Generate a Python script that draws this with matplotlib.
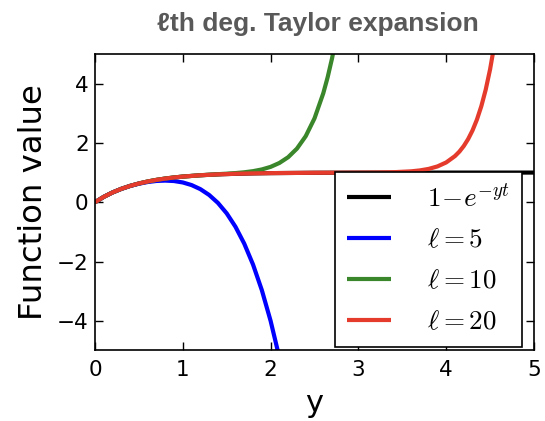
import matplotlib
matplotlib.use("Agg")
import matplotlib.pyplot as plt

plt.rcParams['mathtext.fontset'] = 'cm'

# 1 - e^{-yt}
y_exact = [0.0, 0.1, 0.2, 0.3, 0.4, 0.5, 0.6, 0.7, 0.8, 0.9, 1.0, 1.2, 1.4, 1.6,
           1.8, 2.0, 2.5, 3.0, 3.5, 4.0, 5.0]
v_exact = [0.0, 0.1813, 0.3297, 0.4512, 0.5507, 0.6321, 0.6988, 0.7534, 0.7981,
           0.8347, 0.8647, 0.9093, 0.9392, 0.9592, 0.9727, 0.9817, 0.9933, 0.9975,
           0.9991, 0.9997, 1.0]

# l = 5
y_l5 = [0.0, 0.1, 0.2, 0.3, 0.4, 0.5, 0.6, 0.7, 0.8, 0.9, 1.0, 1.1, 1.2, 1.3, 1.4,
        1.5, 1.6, 1.7, 1.8, 1.9, 2.0, 2.1, 2.2]
v_l5 = [0.0, 0.1813, 0.3296, 0.4506, 0.5483, 0.6250, 0.6816, 0.7173, 0.7296,
        0.7146, 0.6667, 0.5786, 0.4416, 0.2453, -0.0224, -0.375, -0.8277, -1.3974,
        -2.1024, -2.9627, -4.0, -5.2374, -6.6997]

# l = 10
y_l10 = [0.0, 0.1, 0.2, 0.3, 0.4, 0.5, 0.6, 0.7, 0.8, 0.9, 1.0, 1.2, 1.4, 1.5, 1.6,
         1.7, 1.8, 1.9, 2.0, 2.1, 2.2, 2.3, 2.4, 2.5, 2.6, 2.65, 2.7, 2.75, 2.8]
v_l10 = [0.0, 0.1813, 0.3297, 0.4512, 0.5507, 0.6321, 0.6988, 0.7534, 0.7981,
         0.8347, 0.8649, 0.9107, 0.9457, 0.9629, 0.9832, 1.0099, 1.0482, 1.1055,
         1.1922, 1.3238, 1.5185, 1.8078, 2.2270, 2.8271, 3.6742, 4.2164, 4.8542,
         5.6025, 6.4779]

# l = 20
y_l20 = [0.0, 0.1, 0.2, 0.3, 0.4, 0.5, 0.6, 0.7, 0.8, 0.9, 1.0, 1.2, 1.4, 1.6, 1.8,
         2.0, 2.5, 3.0, 3.2, 3.4, 3.6, 3.7, 3.8, 3.9, 4.0, 4.1, 4.15, 4.2, 4.25,
         4.3, 4.35, 4.4, 4.45, 4.5, 4.55, 4.6]
v_l20 = [0.0, 0.1813, 0.3297, 0.4512, 0.5507, 0.6321, 0.6988, 0.7534, 0.7981,
         0.8347, 0.8647, 0.9093, 0.9392, 0.9592, 0.9727, 0.9817, 0.9933, 0.9987,
         1.0025, 1.0127, 1.0420, 1.0729, 1.1238, 1.2071, 1.3416, 1.5563, 1.7063,
         1.8944, 2.1294, 2.4226, 2.7863, 3.2372, 3.7953, 4.4830, 5.3303, 6.3709]

labels = [r'$1\!-\!e^{-yt}$', r'$\ell=5$', r'$\ell=10$', r'$\ell=20$']
colors = ['black', '#0000ff', '#3a862a', '#e43b2c']
x_ticks = [0, 1, 2, 3, 4, 5]
y_ticks = [-4, -2, 0, 2, 4]

fig = plt.figure(figsize=(5.45, 4.21), dpi=100)
ax = fig.add_axes([0.1743, 0.1675, 0.8055, 0.7043])

series = [(y_exact, v_exact), (y_l5, v_l5), (y_l10, v_l10), (y_l20, v_l20)]
for (xs, vs), lab, c in zip(series, labels, colors):
    ax.plot(xs, vs, color=c, lw=3, label=lab, solid_capstyle='butt')

ax.set_xlim(0, 5)
ax.set_ylim(-5, 5)
ax.set_xticks(x_ticks)
ax.set_yticks(y_ticks)
ax.tick_params(direction='in', top=True, right=True, length=6, width=1,
               labelsize=15.5)
ax.tick_params(axis='x', pad=7)
ax.tick_params(axis='y', pad=4.5)
ax.set_yticklabels([f'\u2212{abs(t)}' if t < 0 else str(t) for t in y_ticks])
for s in ax.spines.values():
    s.set_linewidth(1.2)

ax.set_xlabel('y', fontsize=22, labelpad=6)
ax.set_ylabel('Function value', fontsize=23.3, labelpad=6)
fig.text(0.583, 0.943, '\u2113th deg. Taylor expansion', ha='center', va='center',
         fontsize=19, fontweight='bold', color='#595959', family='Liberation Sans')

leg = ax.legend(loc='lower right', bbox_to_anchor=(0.9726, 0.011), borderaxespad=0,
                fontsize=19.5, fancybox=False, framealpha=1, edgecolor='black',
                handlelength=1.6, handletextpad=1.35, labelspacing=0.55,
                borderpad=0.45)
leg.get_frame().set_linewidth(1.2)
for h in leg.get_lines():
    h.set_linewidth(3)

fig.savefig('out.png', dpi=100)
